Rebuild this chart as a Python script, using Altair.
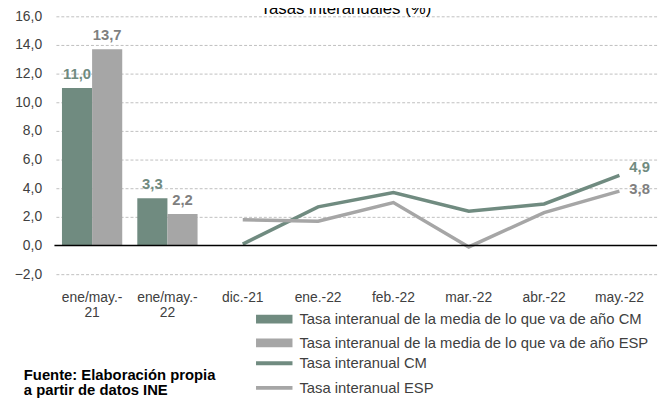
import altair as alt
import pandas as pd

# ---- data ----
categorias = ["ene/may.-21", "ene/may.-22", "dic.-21", "ene.-22", "feb.-22", "mar.-22", "abr.-22", "may.-22"]
periodos_barras = ["ene/may.-21", "ene/may.-22"]
barra_cm = [11.0, 3.3]
barra_esp = [13.7, 2.2]
periodos_lineas = ["dic.-21", "ene.-22", "feb.-22", "mar.-22", "abr.-22", "may.-22"]
linea_cm = [0.1, 2.7, 3.7, 2.4, 2.9, 4.9]
linea_esp = [1.8, 1.7, 3.0, -0.1, 2.3, 3.8]
series_barras = [
    "Tasa interanual de la media de lo que va de año CM",
    "Tasa interanual de la media de lo que va de año ESP",
]
series_lineas = ["Tasa interanual CM", "Tasa interanual ESP"]
y_ticks = [-2.0, 0.0, 2.0, 4.0, 6.0, 8.0, 10.0, 12.0, 14.0, 16.0]
titulo = "Tasas interanuales (%)"
fuente = ["Fuente: Elaboración propia", "a partir de datos INE"]

VERDE = "#708B80"
GRIS = "#A6A6A6"
GRIS_TXT = "#7F7F7F"
FONT = "Liberation Sans"

barras = pd.DataFrame(
    [{"categoria": c, "serie": series_barras[0], "valor": v} for c, v in zip(periodos_barras, barra_cm)]
    + [{"categoria": c, "serie": series_barras[1], "valor": v} for c, v in zip(periodos_barras, barra_esp)]
)
lineas = pd.DataFrame(
    [{"categoria": c, "serie": series_lineas[0], "valor": v} for c, v in zip(periodos_lineas, linea_cm)]
    + [{"categoria": c, "serie": series_lineas[1], "valor": v} for c, v in zip(periodos_lineas, linea_esp)]
)
rejilla = pd.DataFrame({"valor": [v for v in y_ticks if v != 0]})

etiqueta = "replace(format(datum.valor, '.1f'), '.', ',')"

x_axis = alt.Axis(
    title=None, labelAngle=0, domain=False, ticks=False, grid=False,
    labelFontSize=14, labelColor="#404040", labelFont=FONT, labelPadding=17,
    labelLineHeight=15,
    labelExpr="indexof(datum.label, 'ene/may.-') == 0 ? ['ene/may.-', replace(datum.label, 'ene/may.-', '')] : datum.label",
)
x_scale = alt.Scale(domain=categorias, paddingInner=0.2, paddingOuter=0.1)
x_enc = alt.X("categoria:N", sort=categorias, scale=x_scale, axis=x_axis)

y_axis = alt.Axis(
    title=None, values=y_ticks, domain=False, ticks=False, labelOverlap=False,
    labelExpr="replace(format(datum.value, '.1f'), '.', ',')",
    labelFontSize=14, labelColor="#404040", labelFont=FONT, labelPadding=13,
    grid=False,
)
y_enc = alt.Y("valor:Q", scale=alt.Scale(domain=[-2, 16], nice=False, zero=False), axis=y_axis)

legend_common = dict(
    orient="none", title=None, labelFontSize=15, labelFont=FONT, labelColor="#404040",
    labelLimit=600, symbolSize=81, labelOffset=18, rowPadding=8, padding=0,
    direction="vertical", legendX=215,
)
x_off = alt.XOffset("serie:N", sort=series_barras, scale=alt.Scale(paddingInner=0, paddingOuter=0))

grid = alt.Chart(rejilla).mark_rule(
    color="#BFBFBF", strokeWidth=1, strokeDash=[3, 2], yOffset=0.5
).encode(y=y_enc)

bars = alt.Chart(barras).mark_bar().encode(
    x=x_enc,
    xOffset=x_off,
    y=y_enc,
    color=alt.Color(
        "serie:N",
        scale=alt.Scale(domain=series_barras, range=[VERDE, GRIS]),
        legend=alt.Legend(legendY=299, symbolType="M-4.1,-1H4.1V1H-4.1Z", symbolStrokeWidth=0, **legend_common),
    ),
)

def bar_label(serie, color):
    return alt.Chart(barras).transform_filter(
        alt.datum.serie == serie
    ).transform_calculate(txt=etiqueta).mark_text(
        fontSize=15, fontWeight="bold", font=FONT, color=color, dy=-14, baseline="middle"
    ).encode(x=x_enc, xOffset=x_off, y=y_enc, text="txt:N")

lines = alt.Chart(lineas).mark_line(strokeWidth=3.5).encode(
    x=x_enc,
    y=y_enc,
    stroke=alt.Stroke(
        "serie:N",
        scale=alt.Scale(domain=series_lineas, range=[VERDE, GRIS]),
        legend=alt.Legend(legendY=343.6, symbolType="M-4.1,0H4.1", symbolStrokeWidth=4, **legend_common),
    ),
)

def line_label(serie, color, dy):
    return alt.Chart(lineas).transform_filter(
        (alt.datum.serie == serie) & (alt.datum.categoria == categorias[-1])
    ).transform_calculate(txt=etiqueta).mark_text(
        fontSize=15, fontWeight="bold", font=FONT, color=color, align="left", dx=10, dy=dy, baseline="middle"
    ).encode(x=x_enc, y=y_enc, text="txt:N")

zero = alt.Chart(pd.DataFrame({"valor": [0.0]})).mark_rule(color="black", strokeWidth=1.5).encode(
    y=y_enc
)

title_mark = alt.Chart(pd.DataFrame({"t": [titulo]})).mark_text(
    fontSize=17, font=FONT, color="black", align="center", baseline="alphabetic"
).encode(x=alt.value(295), y=alt.value(-2), text="t:N")

source_mark = alt.Chart(pd.DataFrame({"t": ["\n".join(fuente)]})).mark_text(
    fontSize=15, font=FONT, fontWeight="bold", color="black", align="left",
    baseline="alphabetic", lineBreak="\n", lineHeight=15,
).encode(x=alt.value(-31), y=alt.value(368), text="t:N")

chart = alt.layer(
    grid,
    bars,
    bar_label(series_barras[0], VERDE),
    bar_label(series_barras[1], GRIS_TXT),
    lines,
    line_label(series_lineas[0], VERDE, -8),
    line_label(series_lineas[1], GRIS_TXT, -2),
    zero,
    title_mark,
    source_mark,
).properties(
    width=610, height=261,
    autosize=alt.AutoSizeParams(type="none"),
    padding={"left": 47, "top": 6, "right": 7, "bottom": 128},
).configure_view(stroke=None)

chart.save("out.html", embed_options={"renderer": "svg", "actions": False})
